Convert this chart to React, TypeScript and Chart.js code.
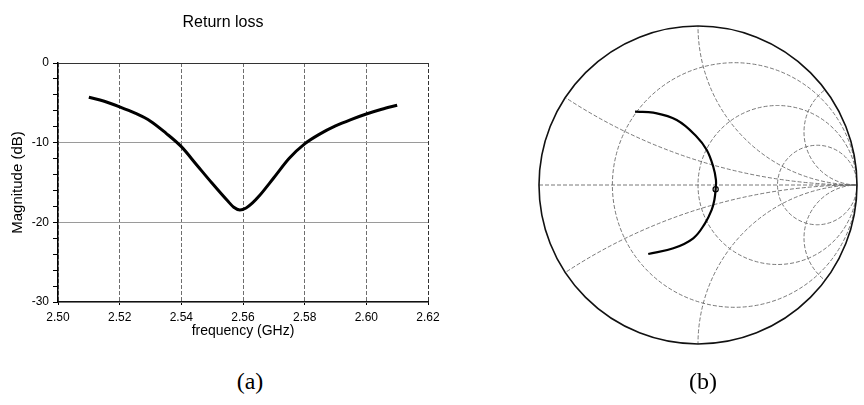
import React, { useEffect, useRef } from "react";
import { Chart, registerables } from "chart.js";

Chart.register(...registerables);

// ---- (a) Return loss data ----
const FREQ_GHZ = [2.51, 2.515, 2.52, 2.525, 2.53, 2.535, 2.54, 2.545, 2.55, 2.555, 2.557, 2.559, 2.561, 2.563, 2.565, 2.57, 2.575, 2.58, 2.585, 2.59, 2.595, 2.6, 2.605, 2.61];
const RETURN_LOSS_DB = [-4.3, -4.8, -5.5, -6.3, -7.3, -8.8, -10.5, -12.8, -15.1, -17.3, -18.1, -18.45, -18.2, -17.6, -16.8, -14.4, -11.95, -10.15, -8.9, -7.9, -7.1, -6.4, -5.8, -5.3];
const X_TICKS = [2.5, 2.52, 2.54, 2.56, 2.58, 2.6, 2.62];
const Y_TICKS = [0, -10, -20, -30];
const Y_MINOR_TICKS = [-30, -28, -26, -24, -22, -20, -18, -16, -14, -12, -10, -8, -6, -4, -2, 0];

// ---- (b) Smith chart data ----
const GAMMA_RE = [-0.396, -0.281, -0.134, -0.008, 0.055, 0.096, 0.113, 0.111, 0.103, 0.086, 0.044, -0.03, -0.155, -0.313];
const GAMMA_IM = [0.461, 0.455, 0.409, 0.304, 0.22, 0.115, 0.031, -0.027, -0.094, -0.157, -0.241, -0.335, -0.398, -0.434];
const MARKER_RE = [0.111];
const MARKER_IM = [-0.027];
const SMITH_R = [0.3, 1, 3];
const SMITH_X = [0.3, 1, 3];

const SANS = "'Liberation Sans', Arial, sans-serif";

const smithGrid = {
  id: "smithGrid",
  beforeDatasetsDraw(chart: any) {
    const { ctx, scales } = chart;
    const xs = scales.x;
    const ys = scales.y;
    const px = (u: number) => xs.getPixelForValue(u);
    const py = (v: number) => ys.getPixelForValue(v);
    const cx = px(0);
    const cy = py(0);
    const R = px(1) - cx;
    ctx.save();
    ctx.beginPath();
    ctx.arc(cx, cy, R, 0, Math.PI * 2);
    ctx.clip();
    ctx.strokeStyle = "#6a6a6a";
    ctx.lineWidth = 0.9;
    ctx.setLineDash([4, 2]);
    ctx.beginPath();
    ctx.moveTo(px(-1), cy);
    ctx.lineTo(px(1), cy);
    ctx.stroke();
    SMITH_R.forEach((r) => {
      const c = r / (1 + r);
      const rad = 1 / (1 + r);
      ctx.beginPath();
      ctx.arc(px(c), cy, px(c + rad) - px(c), 0, Math.PI * 2);
      ctx.stroke();
    });
    SMITH_X.forEach((xv) => {
      [1, -1].forEach((s) => {
        const rad = 1 / xv;
        ctx.beginPath();
        ctx.arc(px(1), py(s * rad), px(1 + rad) - px(1), 0, Math.PI * 2);
        ctx.stroke();
      });
    });
    ctx.restore();
    ctx.save();
    ctx.strokeStyle = "#111";
    ctx.lineWidth = 1.6;
    ctx.beginPath();
    ctx.arc(cx, cy, R, 0, Math.PI * 2);
    ctx.stroke();
    ctx.restore();
  },
};

export default function App() {
  const leftRef = useRef<HTMLCanvasElement>(null);
  const rightRef = useRef<HTMLCanvasElement>(null);

  useEffect(() => {
    Chart.defaults.font.family = SANS;
    Chart.defaults.color = "#000";

    const left = new Chart(leftRef.current!, {
      type: "line",
      data: {
        datasets: [
          {
            data: FREQ_GHZ.map((f, i) => ({ x: f, y: RETURN_LOSS_DB[i] })),
            borderColor: "#000",
            borderWidth: 3,
            pointRadius: 0,
            cubicInterpolationMode: "monotone",
            fill: false,
          },
        ],
      },
      options: {
        animation: false,
        responsive: false,
        events: [],
        layout: { padding: { left: 18, right: 52, top: 0, bottom: 0 } },
        plugins: {
          legend: { display: false },
          tooltip: { enabled: false },
          title: {
            display: true,
            text: "Return loss",
            font: { size: 16, weight: "normal" },
            color: "#000",
            padding: { top: 13, bottom: 30.8 },
          },
        },
        scales: {
          x: {
            type: "linear",
            min: 2.5,
            max: 2.62,
            afterFit: (s: any) => {
              s.height = 48;
            },
            afterBuildTicks: (s: any) => {
              s.ticks = X_TICKS.map((v) => ({ value: v }));
            },
            ticks: {
              autoSkip: false,
              maxRotation: 0,
              padding: 5,
              font: { size: 12 },
              color: "#000",
              callback: (v: any) => Number(v).toFixed(2),
            },
            grid: {
              color: (c: any) => (c.tick && Math.abs(c.tick.value - 2.62) < 1e-6 ? "#333" : "#6e6e6e"),
              lineWidth: 1,
              tickLength: 3,
              tickColor: "#000",
            },
            border: { display: true, color: "#111", width: 1.2, dash: [4, 2] },
            title: {
              display: true,
              text: "frequency (GHz)",
              font: { size: 14 },
              color: "#000",
              padding: { top: 0, bottom: 10 },
            },
          },
          y: {
            type: "linear",
            min: -30,
            max: 0,
            afterFit: (s: any) => {
              s.width = 40;
            },
            afterBuildTicks: (s: any) => {
              s.ticks = Y_MINOR_TICKS.map((v) => ({ value: v }));
            },
            ticks: {
              autoSkip: false,
              padding: 4,
              font: { size: 12 },
              color: "#000",
              callback: (v: any) => (Y_TICKS.includes(Number(v)) ? String(v) : ""),
            },
            grid: {
              color: (c: any) => {
                const v = c.tick ? c.tick.value : NaN;
                if (v === 0) return "#333";
                return Y_TICKS.includes(v) ? "#9a9a9a" : "rgba(0,0,0,0)";
              },
              lineWidth: 1,
              tickLength: 5,
              tickColor: "#000",
            },
            border: { display: true, color: "#000", width: 1.5 },
            title: {
              display: true,
              text: "Magnitude (dB)",
              font: { size: 15 },
              color: "#000",
              padding: { top: -9, bottom: 0 },
            },
          },
        },
      } as any,
    });

    const right = new Chart(rightRef.current!, {
      type: "scatter",
      data: {
        datasets: [
          {
            data: GAMMA_RE.map((u, i) => ({ x: u, y: GAMMA_IM[i] })),
            showLine: true,
            borderColor: "#000",
            borderWidth: 2.2,
            pointRadius: 0,
            tension: 0.4,
            fill: false,
          },
          {
            data: MARKER_RE.map((u, i) => ({ x: u, y: MARKER_IM[i] })),
            showLine: false,
            pointRadius: 2.6,
            pointBorderWidth: 1.2,
            pointBorderColor: "#000",
            pointBackgroundColor: "#fff",
          },
        ],
      },
      options: {
        animation: false,
        responsive: false,
        events: [],
        layout: { padding: { left: 59, right: 7, top: 26, bottom: 61 } },
        plugins: {
          legend: { display: false },
          tooltip: { enabled: false },
          title: { display: false },
        },
        scales: {
          x: { type: "linear", min: -1, max: 1, display: false },
          y: { type: "linear", min: -1, max: 1, display: false },
        },
      } as any,
      plugins: [smithGrid],
    });

    return () => {
      left.destroy();
      right.destroy();
    };
  }, []);

  const caption: React.CSSProperties = {
    position: "absolute",
    top: 368,
    width: 60,
    textAlign: "center",
    fontFamily: "'Liberation Serif', 'Times New Roman', serif",
    fontSize: 24,
    lineHeight: "26px",
    color: "#000",
  };

  return (
    <div style={{ position: "absolute", left: 0, top: 0, width: 864, height: 405, background: "#fff" }}>
      <canvas ref={leftRef} width={480} height={350} style={{ position: "absolute", left: 0, top: 0 }} />
      <canvas ref={rightRef} width={384} height={405} style={{ position: "absolute", left: 480, top: 0 }} />
      <div style={{ ...caption, left: 250 - 30 }}>(a)</div>
      <div style={{ ...caption, left: 703 - 30 }}>(b)</div>
    </div>
  );
}
